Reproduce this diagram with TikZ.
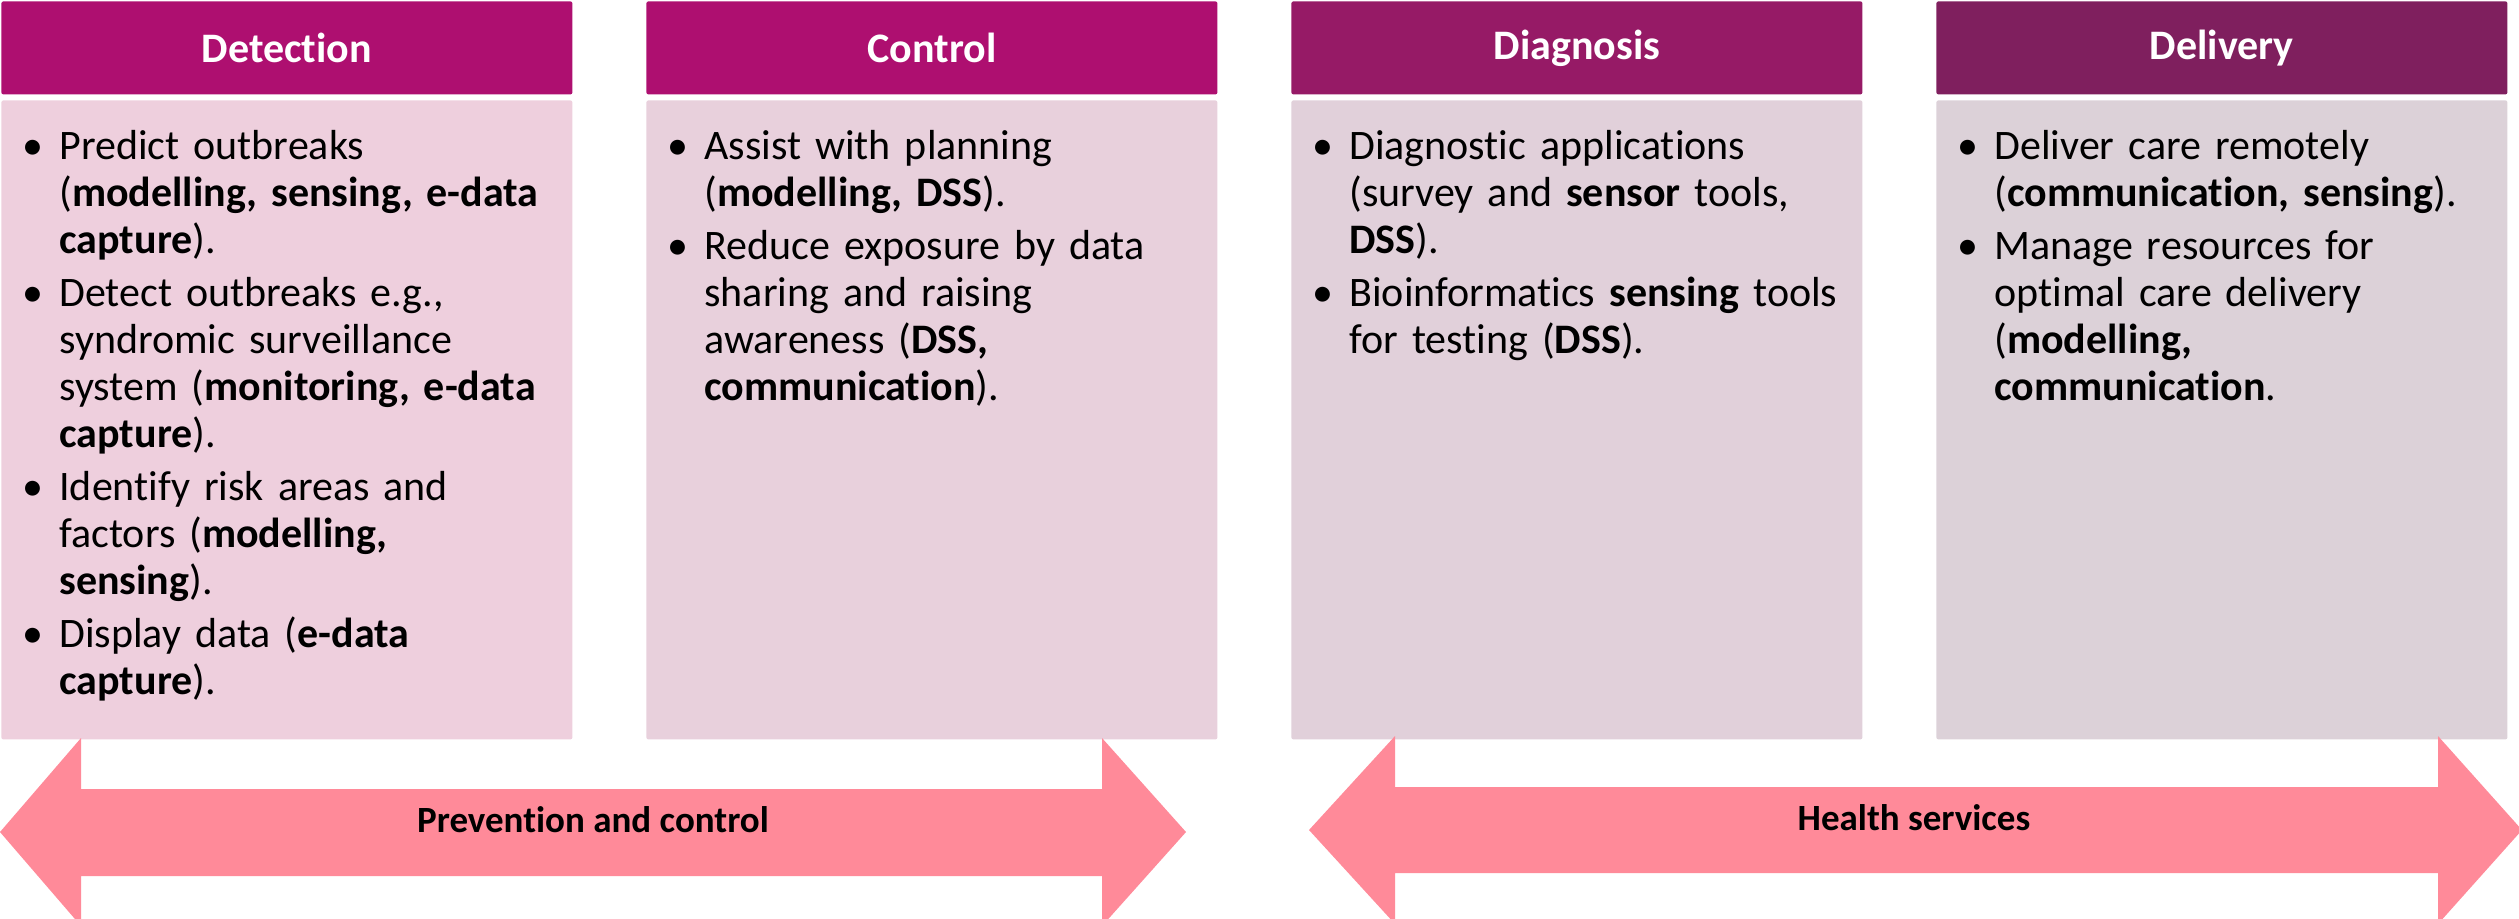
\documentclass[tikz,border=0pt]{standalone}
\usepackage{fontspec}
\setmainfont{Carlito}[Ligatures=NoCommon, Contextuals=NoAlternate, RawFeature={-dlig}]
\usepackage{enumitem}
\setlist[itemize]{leftmargin=24pt, labelsep=8pt, itemsep=3pt, parsep=0pt, topsep=0pt, partopsep=0pt}

\definecolor{headA}{HTML}{AE0F70}
\definecolor{headB}{HTML}{961A66}
\definecolor{headC}{HTML}{7F1F5E}
\definecolor{bodyA}{HTML}{EECFDD}
\definecolor{bodyB}{HTML}{E8D0DC}
\definecolor{bodyC}{HTML}{E1D0DA}
\definecolor{bodyD}{HTML}{DCD1D8}
\definecolor{bandpink}{HTML}{FF8A99}

\tikzset{
    head/.style={fill=#1, text=white, anchor=north west, inner sep=0pt,
        minimum width=285.5pt, minimum height=46.5pt, rounded corners=1pt,
        font=\bfseries\fontsize{21}{25}\selectfont},
    panel/.style={fill=#1, anchor=north west, inner sep=0pt,
        minimum width=285.5pt, minimum height=319.5pt, rounded corners=1pt},
    items/.style={anchor=base west, inner sep=0pt, text width=270pt, align=left,
        font=\fontsize{21}{23.5}\selectfont},
    band/.style={fill=bandpink},
    bandtext/.style={font=\bfseries\fontsize{18.5}{22}\selectfont}
}

\begin{document}
\begin{tikzpicture}[x=0.5pt, y=-0.5pt]
    \useasboundingbox (0,0) rectangle (2519,918);

    % Headers
    \node[head=headA] (det) at (1,1) {Detection};
    \node[head=headA] (ctl) at (646,1) {Control};
    \node[head=headB] (dia) at (1291,1) {Diagnosis};
    \node[head=headC] (del) at (1936,1) {Delivery};

    % Panels
    \node[panel=bodyA] (detbox) at (1,100) {};
    \node[panel=bodyB] (ctlbox) at (646,100) {};
    \node[panel=bodyC] (diabox) at (1291,100) {};
    \node[panel=bodyD] (delbox) at (1936,100) {};

    % Bullet lists
    \node[items] (detlist) at (11,112) {%
        \begin{itemize}
            \item Predict outbreaks\newline (\textbf{modelling, sensing, e-data}\newline \textbf{capture}).
            \item Detect outbreaks e.g.,\newline syndromic surveillance\newline system (\textbf{monitoring, e-data}\newline \textbf{capture}).
            \item Identify risk areas and\newline factors (\textbf{modelling,}\newline \textbf{sensing}).
            \item Display data (\textbf{e-data}\newline \textbf{capture}).
        \end{itemize}};
    \node[items] (ctllist) at (656,112) {%
        \begin{itemize}
            \item Assist with planning\newline (\textbf{modelling, DSS}).
            \item Reduce exposure by data\newline sharing and raising\newline awareness (\textbf{DSS,}\newline \textbf{communication}).
        \end{itemize}};
    \node[items] (dialist) at (1301,112) {%
        \begin{itemize}
            \item Diagnostic applications\newline (survey and \textbf{sensor} tools,\newline \textbf{DSS}).
            \item Bioinformatics \textbf{sensing} tools\newline for testing (\textbf{DSS}).
        \end{itemize}};
    \node[items] (dellist) at (1946,112) {%
        \begin{itemize}
            \item Deliver care remotely\newline (\textbf{communication, sensing}).
            \item Manage resources for\newline optimal care delivery\newline (\textbf{modelling,}\newline \textbf{communication}.
        \end{itemize}};

    % Arrows
    \fill[band] (0,832) -- (81,738) -- (81,789) -- (1102,789) -- (1102,738) -- (1186,832)
        -- (1102,926) -- (1102,876) -- (81,876) -- (81,926) -- cycle;
    \fill[band] (1309,830) -- (1395,736) -- (1395,787) -- (2438,787) -- (2438,736) -- (2522,830)
        -- (2438,924) -- (2438,873) -- (1395,873) -- (1395,924) -- cycle;

    % Labels
    \node[bandtext] (prev) at (593,820) {Prevention and control};
    \node[bandtext] (health) at (1914,818) {Health services};
\end{tikzpicture}
\end{document}
